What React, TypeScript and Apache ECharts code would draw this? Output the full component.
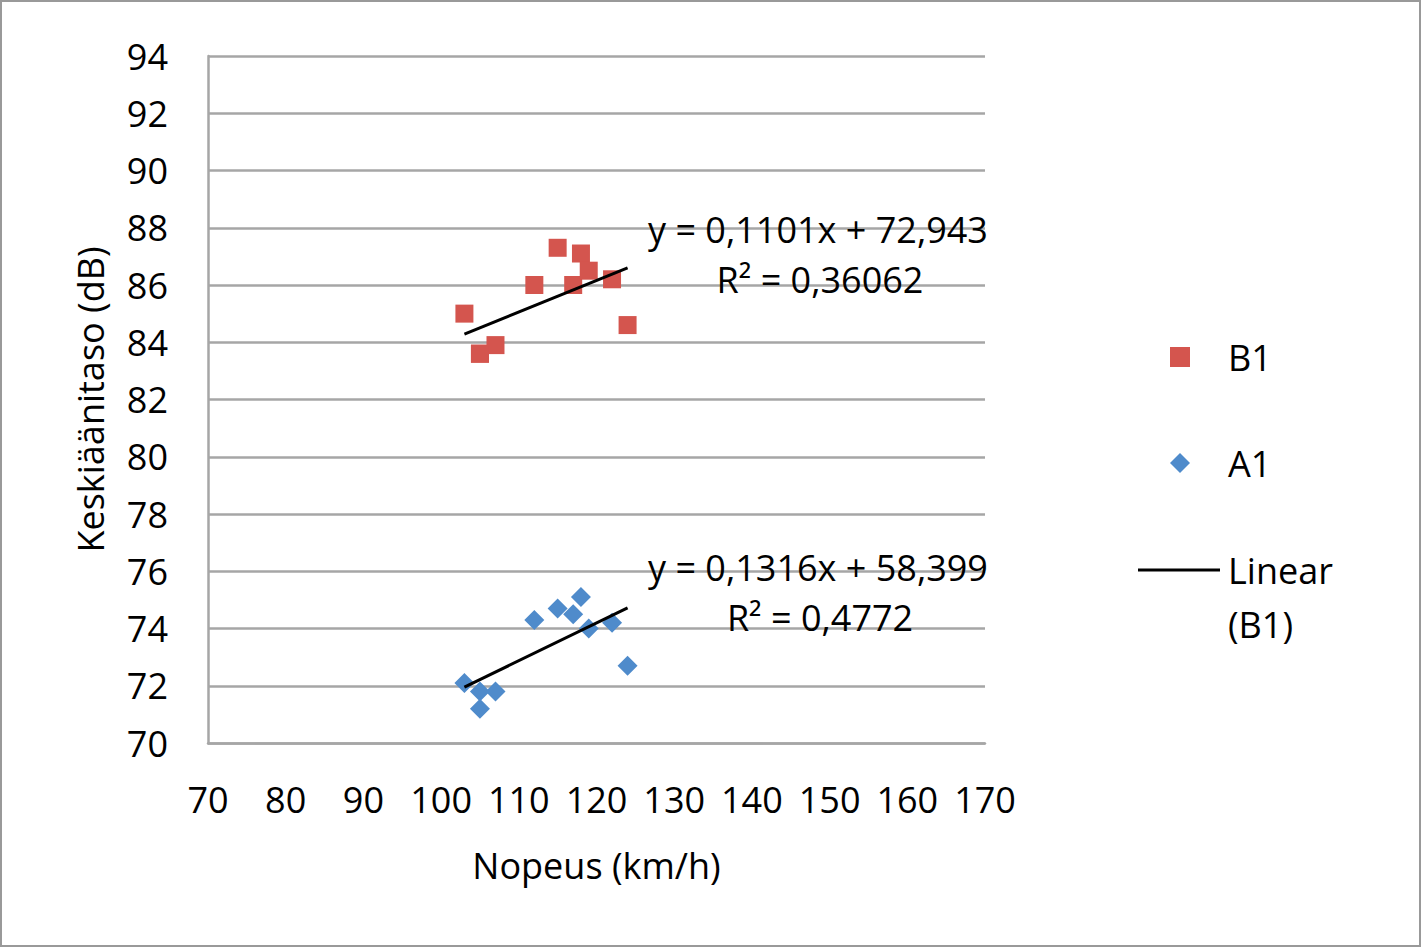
import React, { useEffect, useRef } from "react";
import * as echarts from "echarts";

const speedsB1 = [103, 105, 107, 105, 112, 115, 118, 117, 119, 122, 124];
const levelsB1 = [85.0, 83.6, 83.9, 83.6, 86.0, 87.3, 87.1, 86.0, 86.5, 86.2, 84.6];
const speedsA1 = [103, 105, 107, 105, 112, 115, 118, 117, 119, 122, 124];
const levelsA1 = [72.1, 71.8, 71.8, 71.2, 74.3, 74.7, 75.1, 74.5, 74.0, 74.2, 72.7];

const trendB1 = { slope: 0.1101, intercept: 72.943 };
const trendA1 = { slope: 0.1316, intercept: 58.399 };

const eqLabels = ["y = 0,1101x + 72,943", "R² = 0,36062", "y = 0,1316x + 58,399", "R² = 0,4772"];

const FONT = "'Open Sans', 'DejaVu Sans', sans-serif";
const FS = 36;
const RED = "#d4554e";
const BLUE = "#4f8bcb";

function trendLine(xs: number[], t: { slope: number; intercept: number }) {
  const lo = Math.min(...xs);
  const hi = Math.max(...xs);
  return [
    [lo, t.slope * lo + t.intercept],
    [hi, t.slope * hi + t.intercept],
  ];
}

export default function App() {
  const ref = useRef<HTMLDivElement>(null);
  useEffect(() => {
    if (!ref.current) return;
    const chart = echarts.init(ref.current, undefined, { renderer: "svg" });
    const textBase = { fontFamily: FONT, fontSize: FS, color: "#000" };
    chart.setOption({
      animation: false,
      backgroundColor: "#fff",
      grid: { left: 208, right: 437, top: 56, bottom: 205 },
      xAxis: {
        type: "value",
        min: 70,
        max: 170,
        interval: 10,
        name: "Nopeus (km/h)",
        nameLocation: "middle",
        nameGap: 104,
        nameTextStyle: { ...textBase },
        axisLine: { show: true, lineStyle: { color: "#a6a6a6", width: 2.5 } },
        axisTick: { show: false },
        splitLine: { show: false },
        axisLabel: { ...textBase, margin: 38 },
      },
      yAxis: {
        type: "value",
        min: 70,
        max: 94,
        interval: 2,
        name: "Keskiäänitaso (dB)",
        nameLocation: "middle",
        nameGap: 100,
        nameTextStyle: { ...textBase },
        axisLine: { show: true, lineStyle: { color: "#a6a6a6", width: 2.5 } },
        axisTick: { show: false },
        splitLine: { show: true, lineStyle: { color: "#a6a6a6", width: 2.5 } },
        axisLabel: { ...textBase, margin: 40 },
      },
      legend: [
        {
          data: [
            { name: "B1", icon: "rect" },
            { name: "A1", icon: "diamond" },
          ],
          orient: "vertical",
          left: 1170,
          top: 337,
          padding: 0,
          itemWidth: 20,
          itemHeight: 20,
          itemGap: 66,
          selectedMode: false,
          textStyle: { ...textBase, lineHeight: 40, padding: [0, 0, 0, 33] },
        },
        {
          data: [{ name: "Linear (B1)", icon: "rect" }],
          orient: "vertical",
          left: 1138,
          top: 489,
          padding: 0,
          itemWidth: 82,
          itemHeight: 3,
          selectedMode: false,
          formatter: () => "\nLinear\n(B1)",
          textStyle: { ...textBase, lineHeight: 54, padding: [0, 0, 0, 3] },
        },
      ],
      series: [
        {
          name: "B1",
          type: "scatter",
          symbol: "rect",
          symbolSize: 18,
          itemStyle: { color: RED, opacity: 1 },
          data: speedsB1.map((x, i) => [x, levelsB1[i]]),
          z: 3,
        },
        {
          name: "A1",
          type: "scatter",
          symbol: "diamond",
          symbolSize: 20,
          itemStyle: { color: BLUE, opacity: 1 },
          data: speedsA1.map((x, i) => [x, levelsA1[i]]),
          z: 3,
        },
        {
          name: "Linear (B1)",
          type: "line",
          symbol: "none",
          lineStyle: { color: "#000", width: 3 },
          itemStyle: { color: "#000" },
          data: trendLine(speedsB1, trendB1),
          z: 4,
        },
        {
          name: "Linear (A1)",
          type: "line",
          symbol: "none",
          lineStyle: { color: "#000", width: 3 },
          itemStyle: { color: "#000" },
          data: trendLine(speedsA1, trendA1),
          z: 4,
        },
      ],
      graphic: [
        {
          type: "rect",
          shape: { x: 1, y: 1, width: 1419, height: 945 },
          style: { fill: "none", stroke: "#999", lineWidth: 2 },
          silent: true,
        },
        ...[
          [818, 229],
          [820, 279],
          [818, 567],
          [820, 617],
        ].map((p, i) => ({
          type: "text",
          x: p[0],
          y: p[1],
          z: 10,
          style: {
            text: eqLabels[i],
            fontFamily: FONT,
            fontSize: FS,
            fill: "#000",
            align: "center",
            verticalAlign: "middle",
          },
        })),
      ],
    });
    return () => chart.dispose();
  }, []);
  return (
    <div
      ref={ref}
      style={{ position: "fixed", left: 0, top: 0, width: 1422, height: 948 }}
    />
  );
}
